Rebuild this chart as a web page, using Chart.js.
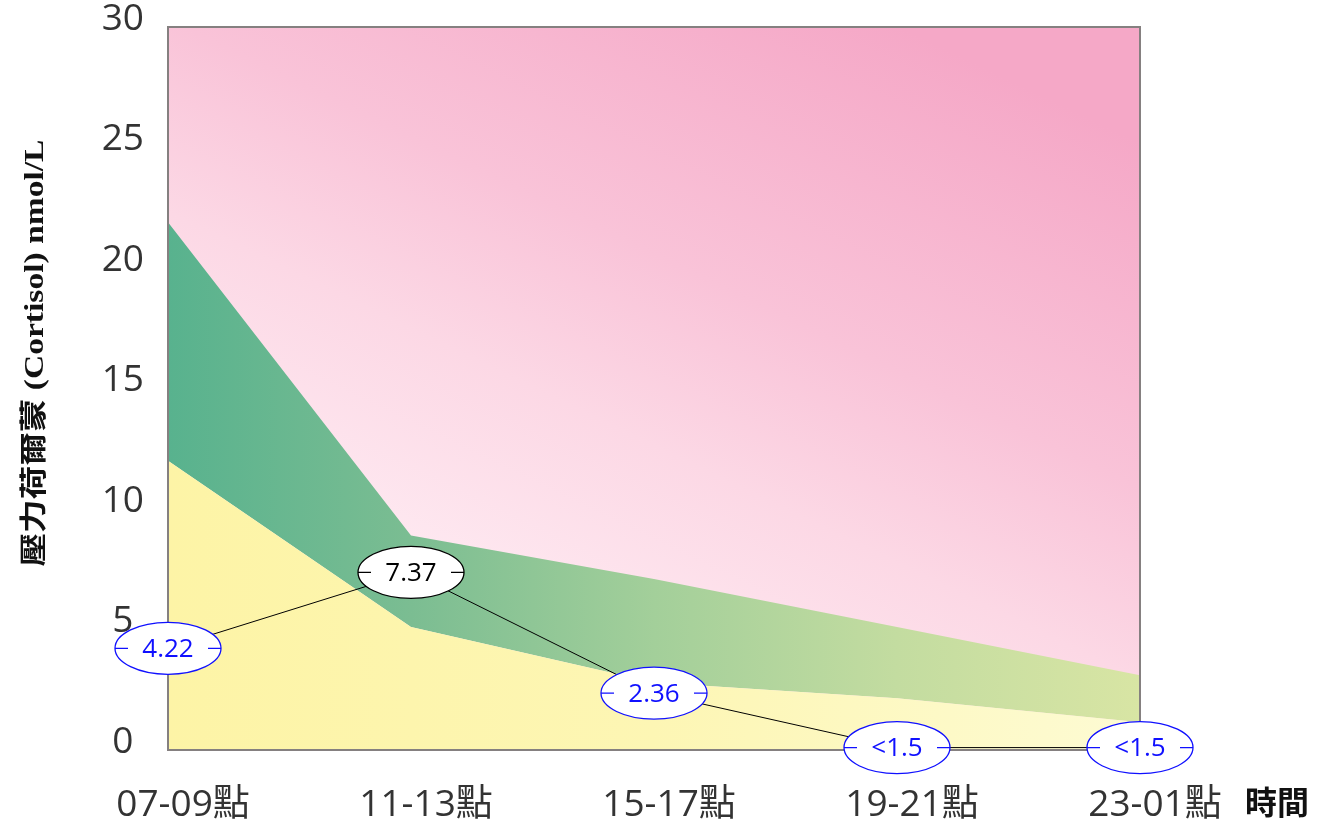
<!DOCTYPE html>
<html>
<head>
<meta charset="utf-8">
<script src="https://cdn.jsdelivr.net/npm/chart.js@4.4.1/dist/chart.umd.min.js"></script>
<style>
html,body{margin:0;padding:0;background:#fff;}
#wrap{width:1328px;height:825px;position:relative;}
</style>
</head>
<body>
<div id="wrap"><canvas id="c" width="1328" height="825"></canvas></div>
<script>
// ---- data ----
const categories = ['07-09點', '11-13點', '15-17點', '19-21點', '23-01點'];
const normalLow  = [12.0, 5.1, 2.8, 2.15, 1.15];   // yellow band top
const normalHigh = [21.9, 8.9, 7.1, 5.1, 3.1];     // green band top
const measured   = [4.22, 7.37, 2.36, 0.1, 0.1];   // plotted positions of results
const measuredLabels = ['4.22', '7.37', '2.36', '<1.5', '<1.5'];
const measuredColors = ['#1010ff', '#000000', '#1010ff', '#1010ff', '#1010ff'];
const yTicks = [0, 5, 10, 15, 20, 25, 30];
const yTitle = '壓力荷爾蒙 (Cortisol) nmol/L';
const xTitle = '時間';

const bgPlugin = {
  id: 'bg',
  beforeDatasetsDraw(chart) {
    const {ctx, chartArea: a} = chart;
    const g = ctx.createLinearGradient(600, a.bottom - 100, 900, a.top);
    g.addColorStop(0, '#fee9f1');
    g.addColorStop(0.3, '#fcd8e5');
    g.addColorStop(0.55, '#f9c3d8');
    g.addColorStop(1, '#f5a8c7');
    ctx.save();
    ctx.fillStyle = g;
    ctx.fillRect(a.left, a.top, a.right - a.left, a.bottom - a.top);
    ctx.restore();
  },
  afterDatasetsDraw(chart) {
    const {ctx, chartArea: a} = chart;
    ctx.save();
    ctx.strokeStyle = '#858080';
    ctx.lineWidth = 2;
    ctx.strokeRect(a.left, a.top, a.right - a.left, a.bottom - a.top);
    ctx.restore();
  }
};

const ellipsePlugin = {
  id: 'ellipses',
  afterDraw(chart) {
    const {ctx} = chart;
    const meta = chart.getDatasetMeta(2);
    ctx.save();
    ctx.strokeStyle = '#000';
    ctx.lineWidth = 1;
    ctx.beginPath();
    meta.data.forEach((p, i) => { if (i === 0) ctx.moveTo(p.x, p.y); else ctx.lineTo(p.x, p.y); });
    ctx.stroke();
    const rx = 53, ry = 26;
    meta.data.forEach((p, i) => {
      const col = measuredColors[i];
      ctx.beginPath();
      ctx.ellipse(p.x, p.y, rx, ry, 0, 0, Math.PI * 2);
      ctx.fillStyle = '#fff';
      ctx.fill();
      ctx.lineWidth = 1.3;
      ctx.strokeStyle = col;
      ctx.stroke();
      ctx.beginPath();
      ctx.moveTo(p.x - rx, p.y); ctx.lineTo(p.x - rx + 13, p.y);
      ctx.moveTo(p.x + rx - 13, p.y); ctx.lineTo(p.x + rx, p.y);
      ctx.stroke();
      ctx.fillStyle = col;
      ctx.font = '26px "Open Sans", "Noto Sans", sans-serif';
      ctx.textAlign = 'center';
      ctx.textBaseline = 'middle';
      ctx.fillText(measuredLabels[i], p.x, p.y + 1);
    });
    ctx.fillStyle = '#111';
    ctx.font = 'bold 32px "Noto Sans CJK TC", sans-serif';
    ctx.textAlign = 'left';
    ctx.textBaseline = 'middle';
    ctx.fillText(xTitle, 1245, 802);
    ctx.save();
    ctx.translate(36, 353);
    ctx.rotate(-Math.PI / 2);
    ctx.font = 'bold 27px "Liberation Serif", "Noto Sans CJK TC", serif';
    const w = ctx.measureText(yTitle).width;
    ctx.scale(427 / w, 1);
    ctx.textAlign = 'center';
    ctx.fillText(yTitle, 0, 0);
    ctx.restore();
    ctx.restore();
  }
};

const tickFont = {family: '"Open Sans", "Noto Sans CJK TC", sans-serif', size: 37};

new Chart(document.getElementById('c'), {
  type: 'line',
  data: {
    labels: categories,
    datasets: [
      {
        data: normalLow, fill: 'origin', borderWidth: 0, pointRadius: 0, tension: 0,
        backgroundColor(ctx) {
          const a = ctx.chart.chartArea; if (!a) return '#fdf5a9';
          const g = ctx.chart.ctx.createLinearGradient(a.left, 0, a.right, 0);
          g.addColorStop(0, '#fdf4a6'); g.addColorStop(0.5, '#fdf6b4'); g.addColorStop(1, '#fdfbd3');
          return g;
        }
      },
      {
        data: normalHigh, fill: '-1', borderWidth: 0, pointRadius: 0, tension: 0,
        backgroundColor(ctx) {
          const a = ctx.chart.chartArea; if (!a) return '#5cb490';
          const g = ctx.chart.ctx.createLinearGradient(a.left, 0, a.right, 0);
          g.addColorStop(0, '#58b28e'); g.addColorStop(0.25, '#7bbd92'); g.addColorStop(0.5, '#a3cf9a');
          g.addColorStop(0.75, '#c3dca0'); g.addColorStop(1, '#d8e5a4');
          return g;
        }
      },
      {
        data: measured, fill: false, borderColor: '#000', borderWidth: 1, pointRadius: 0, tension: 0, clip: false
      }
    ]
  },
  options: {
    responsive: false,
    animation: false,
    devicePixelRatio: 1,
    layout: {padding: {left: 0, right: 188, top: 27, bottom: 0}},
    plugins: {legend: {display: false}, tooltip: {enabled: false}},
    scales: {
      x: {
        display: false,
        offset: false
      },
      x2: {
        type: 'linear',
        position: 'bottom',
        min: -0.062, max: 3.938,
        afterBuildTicks(s) { s.ticks = categories.map((c, i) => ({value: i})); },
        grid: {display: false, drawTicks: false},
        border: {display: false},
        ticks: {
          font: tickFont, color: '#333', padding: 33, maxRotation: 0, autoSkip: false,
          callback: (v) => categories[v]
        },
        afterFit(s) { s.height = 75; s.paddingLeft = 0; s.paddingRight = 0; }
      },
      y: {
        display: true,
        min: 0, max: 30,
        grid: {display: false},
        border: {display: false},
        ticks: {display: false},
        afterFit(s) { s.width = 0; s.paddingTop = 0; s.paddingBottom = 0; }
      },
      y2: {
        position: 'left',
        min: -0.33, max: 29.67,
        afterBuildTicks(s) { s.ticks = yTicks.map(v => ({value: v})); },
        grid: {display: false, drawTicks: false},
        border: {display: false},
        ticks: {font: tickFont, color: '#333', padding: 24, crossAlign: 'center'},
        afterFit(s) { s.width = 168; s.paddingTop = 0; s.paddingBottom = 0; }
      }
    }
  },
  plugins: [bgPlugin, ellipsePlugin]
});
</script>
</body>
</html>
